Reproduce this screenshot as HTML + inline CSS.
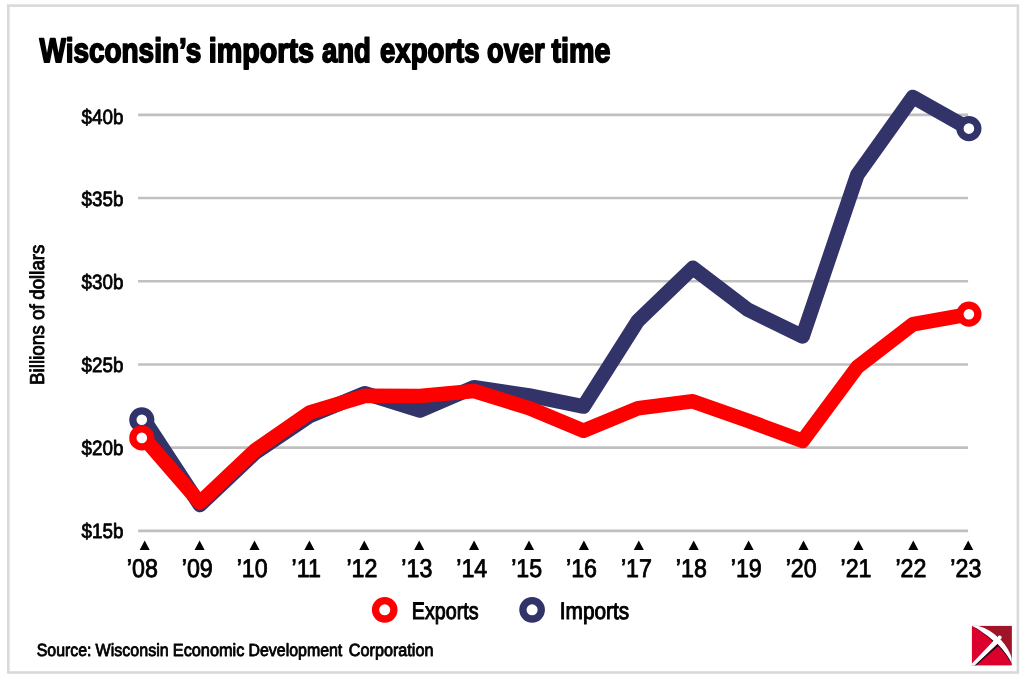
<!DOCTYPE html>
<html><head><meta charset="utf-8"><title>Wisconsin's imports and exports over time</title>
<style>
html,body{margin:0;padding:0;background:#fff;}
body{width:1024px;height:678px;overflow:hidden;font-family:"Liberation Sans",sans-serif;}
svg{display:block;will-change:transform;}
text{font-family:"Liberation Sans",sans-serif;text-rendering:geometricPrecision;}
</style></head><body>
<svg width="1024" height="678" viewBox="0 0 1024 678">
<rect x="0" y="0" width="1024" height="678" fill="#fff"/>
<rect x="8.3" y="5.6" width="1009.6" height="666.9" fill="none" stroke="#d9d9d9" stroke-width="2.6"/>
<g stroke="#c0c0c0" stroke-width="2.6"><line x1="138.1" x2="968.1" y1="114.85" y2="114.85"/><line x1="138.1" x2="968.1" y1="198.05" y2="198.05"/><line x1="138.1" x2="968.1" y1="281.25" y2="281.25"/><line x1="138.1" x2="968.1" y1="364.45" y2="364.45"/><line x1="138.1" x2="968.1" y1="447.65" y2="447.65"/><line x1="138.1" x2="968.1" y1="530.85" y2="530.85"/></g>
<g fill="#000"><path d="M144.70 540.6 L139.65 549.9 L149.75 549.9 Z"/><path d="M199.60 540.6 L194.55 549.9 L204.65 549.9 Z"/><path d="M254.50 540.6 L249.45 549.9 L259.55 549.9 Z"/><path d="M309.40 540.6 L304.35 549.9 L314.45 549.9 Z"/><path d="M364.30 540.6 L359.25 549.9 L369.35 549.9 Z"/><path d="M419.20 540.6 L414.15 549.9 L424.25 549.9 Z"/><path d="M474.10 540.6 L469.05 549.9 L479.15 549.9 Z"/><path d="M529.00 540.6 L523.95 549.9 L534.05 549.9 Z"/><path d="M583.90 540.6 L578.85 549.9 L588.95 549.9 Z"/><path d="M638.80 540.6 L633.75 549.9 L643.85 549.9 Z"/><path d="M693.70 540.6 L688.65 549.9 L698.75 549.9 Z"/><path d="M748.60 540.6 L743.55 549.9 L753.65 549.9 Z"/><path d="M803.50 540.6 L798.45 549.9 L808.55 549.9 Z"/><path d="M858.40 540.6 L853.35 549.9 L863.45 549.9 Z"/><path d="M913.30 540.6 L908.25 549.9 L918.35 549.9 Z"/><path d="M968.20 540.6 L963.15 549.9 L973.25 549.9 Z"/></g>
<polyline points="144.0,419.8 199.9,505.0 254.9,453.0 309.7,416.0 364.7,393.3 420.0,410.5 474.0,387.3 529.0,395.4 583.5,406.5 638.0,320.7 692.8,267.9 747.6,309.5 802.6,336.4 857.4,174.7 912.9,97.0 968.9,128.6" fill="none" stroke="#313369" stroke-width="14.6" stroke-linejoin="round" stroke-linecap="round"/>
<circle cx="141.8" cy="419.8" r="8.95" fill="#fff" stroke="#313369" stroke-width="7.3"/><circle cx="968.9" cy="128.6" r="8.95" fill="#fff" stroke="#313369" stroke-width="7.3"/>
<polyline points="144.0,437.9 199.9,502.6 254.9,450.5 309.7,412.5 364.7,395.9 420.0,396.0 474.0,391.0 529.0,408.1 583.5,430.8 638.0,408.2 692.8,401.3 747.6,420.6 802.6,440.9 857.4,367.0 912.9,324.3 968.9,314.2" fill="none" stroke="#ff0000" stroke-width="14.6" stroke-linejoin="round" stroke-linecap="round"/>
<circle cx="141.8" cy="437.9" r="8.95" fill="#fff" stroke="#ff0000" stroke-width="7.3"/><circle cx="968.9" cy="314.2" r="8.95" fill="#fff" stroke="#ff0000" stroke-width="7.3"/>
<circle cx="384.7" cy="609.8" r="9.2" fill="#fff" stroke="#ff0000" stroke-width="7.3"/>
<circle cx="532.1" cy="609.8" r="9.2" fill="#fff" stroke="#313369" stroke-width="7.3"/>
<text transform="translate(39.50,62.00) scale(0.8218,1.0000)" font-size="34.00" font-weight="bold" fill="#000" stroke="#000" stroke-width="1.80" vector-effect="non-scaling-stroke" stroke-linejoin="round">Wisconsin&#8217;s</text>
<text transform="translate(208.81,62.00) scale(0.8434,1.0000)" font-size="34.00" font-weight="bold" fill="#000" stroke="#000" stroke-width="1.80" vector-effect="non-scaling-stroke" stroke-linejoin="round">imports</text>
<text transform="translate(321.97,62.00) scale(0.8088,1.0000)" font-size="34.00" font-weight="bold" fill="#000" stroke="#000" stroke-width="1.80" vector-effect="non-scaling-stroke" stroke-linejoin="round">and</text>
<text transform="translate(380.04,62.00) scale(0.8108,1.0000)" font-size="34.00" font-weight="bold" fill="#000" stroke="#000" stroke-width="1.80" vector-effect="non-scaling-stroke" stroke-linejoin="round">exports</text>
<text transform="translate(487.05,62.00) scale(0.7997,1.0000)" font-size="34.00" font-weight="bold" fill="#000" stroke="#000" stroke-width="1.80" vector-effect="non-scaling-stroke" stroke-linejoin="round">over</text>
<text transform="translate(551.50,62.00) scale(0.8427,1.0000)" font-size="34.00" font-weight="bold" fill="#000" stroke="#000" stroke-width="1.80" vector-effect="non-scaling-stroke" stroke-linejoin="round">time</text>
<text transform="translate(81.55,123.70) scale(0.9080,1.0000)" font-size="20.70" fill="#000" stroke="#000" stroke-width="0.80" vector-effect="non-scaling-stroke" stroke-linejoin="round">$40b</text>
<text transform="translate(81.55,206.48) scale(0.9080,1.0000)" font-size="20.70" fill="#000" stroke="#000" stroke-width="0.80" vector-effect="non-scaling-stroke" stroke-linejoin="round">$35b</text>
<text transform="translate(81.55,289.26) scale(0.9080,1.0000)" font-size="20.70" fill="#000" stroke="#000" stroke-width="0.80" vector-effect="non-scaling-stroke" stroke-linejoin="round">$30b</text>
<text transform="translate(81.55,372.04) scale(0.9080,1.0000)" font-size="20.70" fill="#000" stroke="#000" stroke-width="0.80" vector-effect="non-scaling-stroke" stroke-linejoin="round">$25b</text>
<text transform="translate(81.55,454.82) scale(0.9080,1.0000)" font-size="20.70" fill="#000" stroke="#000" stroke-width="0.80" vector-effect="non-scaling-stroke" stroke-linejoin="round">$20b</text>
<text transform="translate(81.55,537.60) scale(0.9080,1.0000)" font-size="20.70" fill="#000" stroke="#000" stroke-width="0.80" vector-effect="non-scaling-stroke" stroke-linejoin="round">$15b</text>
<text transform="translate(126.83,577.30) scale(0.9050,1.0000)" font-size="25.70" fill="#000" stroke="#000" stroke-width="0.85" vector-effect="non-scaling-stroke" stroke-linejoin="round">&#8217;08</text>
<text transform="translate(181.73,577.30) scale(0.9050,1.0000)" font-size="25.70" fill="#000" stroke="#000" stroke-width="0.85" vector-effect="non-scaling-stroke" stroke-linejoin="round">&#8217;09</text>
<text transform="translate(236.63,577.30) scale(0.9050,1.0000)" font-size="25.70" fill="#000" stroke="#000" stroke-width="0.85" vector-effect="non-scaling-stroke" stroke-linejoin="round">&#8217;10</text>
<text transform="translate(291.53,577.30) scale(0.9050,1.0000)" font-size="25.70" fill="#000" stroke="#000" stroke-width="0.85" vector-effect="non-scaling-stroke" stroke-linejoin="round">&#8217;11</text>
<text transform="translate(346.43,577.30) scale(0.9050,1.0000)" font-size="25.70" fill="#000" stroke="#000" stroke-width="0.85" vector-effect="non-scaling-stroke" stroke-linejoin="round">&#8217;12</text>
<text transform="translate(401.33,577.30) scale(0.9050,1.0000)" font-size="25.70" fill="#000" stroke="#000" stroke-width="0.85" vector-effect="non-scaling-stroke" stroke-linejoin="round">&#8217;13</text>
<text transform="translate(456.23,577.30) scale(0.9050,1.0000)" font-size="25.70" fill="#000" stroke="#000" stroke-width="0.85" vector-effect="non-scaling-stroke" stroke-linejoin="round">&#8217;14</text>
<text transform="translate(511.13,577.30) scale(0.9050,1.0000)" font-size="25.70" fill="#000" stroke="#000" stroke-width="0.85" vector-effect="non-scaling-stroke" stroke-linejoin="round">&#8217;15</text>
<text transform="translate(566.03,577.30) scale(0.9050,1.0000)" font-size="25.70" fill="#000" stroke="#000" stroke-width="0.85" vector-effect="non-scaling-stroke" stroke-linejoin="round">&#8217;16</text>
<text transform="translate(620.93,577.30) scale(0.9050,1.0000)" font-size="25.70" fill="#000" stroke="#000" stroke-width="0.85" vector-effect="non-scaling-stroke" stroke-linejoin="round">&#8217;17</text>
<text transform="translate(675.83,577.30) scale(0.9050,1.0000)" font-size="25.70" fill="#000" stroke="#000" stroke-width="0.85" vector-effect="non-scaling-stroke" stroke-linejoin="round">&#8217;18</text>
<text transform="translate(730.73,577.30) scale(0.9050,1.0000)" font-size="25.70" fill="#000" stroke="#000" stroke-width="0.85" vector-effect="non-scaling-stroke" stroke-linejoin="round">&#8217;19</text>
<text transform="translate(785.63,577.30) scale(0.9050,1.0000)" font-size="25.70" fill="#000" stroke="#000" stroke-width="0.85" vector-effect="non-scaling-stroke" stroke-linejoin="round">&#8217;20</text>
<text transform="translate(840.53,577.30) scale(0.9050,1.0000)" font-size="25.70" fill="#000" stroke="#000" stroke-width="0.85" vector-effect="non-scaling-stroke" stroke-linejoin="round">&#8217;21</text>
<text transform="translate(895.43,577.30) scale(0.9050,1.0000)" font-size="25.70" fill="#000" stroke="#000" stroke-width="0.85" vector-effect="non-scaling-stroke" stroke-linejoin="round">&#8217;22</text>
<text transform="translate(950.33,577.30) scale(0.9050,1.0000)" font-size="25.70" fill="#000" stroke="#000" stroke-width="0.85" vector-effect="non-scaling-stroke" stroke-linejoin="round">&#8217;23</text>
<text transform="translate(411.86,619.40) scale(0.8239,1.0000)" font-size="23.90" fill="#000" stroke="#000" stroke-width="1.00" vector-effect="non-scaling-stroke" stroke-linejoin="round">Exports</text>
<text transform="translate(559.77,619.40) scale(0.8707,1.0000)" font-size="23.90" fill="#000" stroke="#000" stroke-width="1.00" vector-effect="non-scaling-stroke" stroke-linejoin="round">Imports</text>
<text transform="translate(36.73,656.40) scale(0.9032,1.0000)" font-size="17.60" fill="#000" stroke="#000" stroke-width="0.85" vector-effect="non-scaling-stroke" stroke-linejoin="round">Source:</text>
<text transform="translate(95.62,656.40) scale(0.9109,1.0000)" font-size="17.60" fill="#000" stroke="#000" stroke-width="0.85" vector-effect="non-scaling-stroke" stroke-linejoin="round">Wisconsin</text>
<text transform="translate(172.75,656.40) scale(0.9276,1.0000)" font-size="17.60" fill="#000" stroke="#000" stroke-width="0.85" vector-effect="non-scaling-stroke" stroke-linejoin="round">Economic</text>
<text transform="translate(248.48,656.40) scale(0.9049,1.0000)" font-size="17.60" fill="#000" stroke="#000" stroke-width="0.85" vector-effect="non-scaling-stroke" stroke-linejoin="round">Development</text>
<text transform="translate(348.87,656.40) scale(0.9201,1.0000)" font-size="17.60" fill="#000" stroke="#000" stroke-width="0.85" vector-effect="non-scaling-stroke" stroke-linejoin="round">Corporation</text>
<text transform="translate(44.20,384.95) rotate(-90) scale(0.9377,1.0000)" font-size="20.10" fill="#000" stroke="#000" stroke-width="0.85" vector-effect="non-scaling-stroke" stroke-linejoin="round">Billions</text>
<text transform="translate(44.20,320.07) rotate(-90) scale(0.9535,1.0000)" font-size="20.10" fill="#000" stroke="#000" stroke-width="0.85" vector-effect="non-scaling-stroke" stroke-linejoin="round">of</text>
<text transform="translate(44.20,299.76) rotate(-90) scale(0.9326,1.0000)" font-size="20.10" fill="#000" stroke="#000" stroke-width="0.85" vector-effect="non-scaling-stroke" stroke-linejoin="round">dollars</text>
<g transform="translate(971.9,625.9) scale(1.006,1.005)">
<clipPath id="lc"><rect x="0" y="0" width="39.5" height="39.3"/></clipPath>
<rect x="0" y="0" width="39.5" height="39.3" fill="#dc002e"/>
<g clip-path="url(#lc)">
<path d="M5 -1 L42 -1 L42 38 L41 37 L39.5 31.9 L38.3 28.1 L35.8 23.2 L32.5 18.2 L29 14.1 L25 10.5 L22.2 8 L17.6 4.8 L12.3 2 L6.6 0.2 Z" fill="#9e1428"/>
<g fill="#14141c">
<path d="M0.2 0 L5.2 2.7 L10.5 6.2 L15.8 10.1 L19.3 13 L21.5 14.7 L20.9 15.7 L18.7 13.8 L15.4 10.8 L10.2 6.7 L5.1 3 Z"/>
<path d="M2.6 39.4 L25.5 17.7 L26.2 20.2 L4.1 39.4 Z"/>
<path d="M25.5 17.7 L30.4 23.2 L34.6 28.6 L37.5 33.1 L39.5 37.2 L41 40.5 L40.4 41 L39.3 38 L37.4 34.4 L34.5 30.1 L30.3 24.7 L26.2 20.2 Z"/>
</g>
<g fill="#fff">
<path d="M0.2 -0.3 L6.6 0.2 L12.3 2 L17.6 4.8 L22.2 8 L25 10.5 L29 14.1 L32.5 18.2 L35.8 23.2 L38.3 28.1 L39.5 31.9 L41 37 L41 40.5 L39.5 37.2 L37.5 33.1 L34.6 28.6 L30.4 23.2 L25.5 17.7 L21.5 14.7 L19.3 13 L15.8 10.1 L10.5 6.2 L5.2 2.7 L0.2 0.05 Z"/>
<path d="M-1 38.5 L20.4 16.1 L22.5 13.5 L26.5 16.6 L25.5 17.7 L2.6 39.4 L-1 40.4 Z"/>
<circle cx="27.6" cy="11.5" r="2.0"/>
</g>
</g>
</g>
</svg>
</body></html>
